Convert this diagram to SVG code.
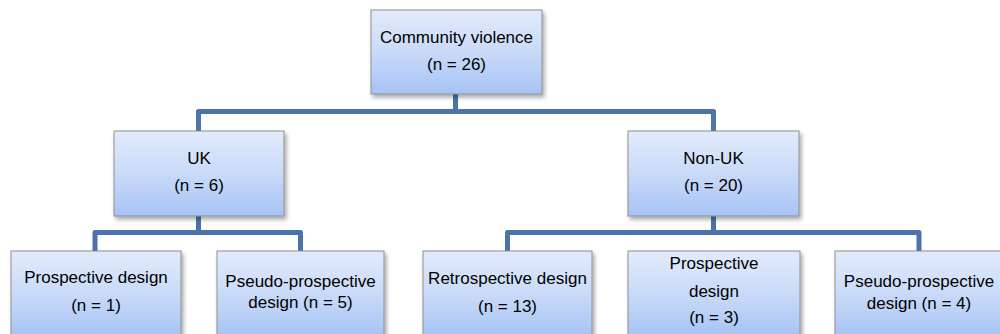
<svg xmlns="http://www.w3.org/2000/svg" width="1000" height="334" viewBox="0 0 1000 334">
  <defs>
    <linearGradient id="boxGrad" x1="0" y1="0" x2="0" y2="1">
      <stop offset="0" stop-color="#e2ebfb"/>
      <stop offset="0.5" stop-color="#c9daf8"/>
      <stop offset="1" stop-color="#a6c3f5"/>
    </linearGradient>
    <filter id="shadow" x="-10%" y="-10%" width="125%" height="130%">
      <feDropShadow dx="2" dy="3" stdDeviation="2" flood-color="#000" flood-opacity="0.35"/>
    </filter>
  </defs>
  <style>
    .box { fill: url(#boxGrad); stroke: #8f8f8f; stroke-width: 1; filter: url(#shadow); }
    .conn { fill: none; stroke: #4a74aa; stroke-width: 5; stroke-linejoin: round; stroke-linecap: butt; }
    text { font-family: "Liberation Sans", Arial, sans-serif; font-size: 17px; fill: #000; text-anchor: middle; }
  </style>
  <rect width="1000" height="334" fill="#ffffff"/>

  <g id="connectors">
    <path class="conn" d="M455.5 94 V111.5"/>
    <path class="conn" d="M198.5 131 V111.5 H713.5 V131"/>
    <path class="conn" d="M198.5 216 V232.5"/>
    <path class="conn" d="M95 251 V232.5 H300.5 V251"/>
    <path class="conn" d="M713.5 216 V232.5"/>
    <path class="conn" d="M507.5 251 V232.5 H919 V251"/>
  </g>

  <g id="node-community">
    <rect class="box" x="371" y="10" width="171" height="84"/>
    <text x="456.5" y="43">Community violence</text>
    <text x="456.5" y="70">(n = 26)</text>
  </g>

  <g id="node-uk">
    <rect class="box" x="114" y="131" width="170" height="85"/>
    <text x="199" y="164">UK</text>
    <text x="199" y="191">(n = 6)</text>
  </g>

  <g id="node-nonuk">
    <rect class="box" x="628" y="131" width="171" height="85"/>
    <text x="713.5" y="164">Non-UK</text>
    <text x="713.5" y="191">(n = 20)</text>
  </g>

  <g id="node-uk-prospective">
    <rect class="box" x="11" y="251" width="170" height="86"/>
    <text x="96" y="283">Prospective design</text>
    <text x="96" y="311">(n = 1)</text>
  </g>

  <g id="node-uk-pseudo">
    <rect class="box" x="217" y="251" width="167" height="86"/>
    <text x="300.5" y="287">Pseudo-prospective</text>
    <text x="300.5" y="308">design (n = 5)</text>
  </g>

  <g id="node-nonuk-retro">
    <rect class="box" x="423" y="251" width="169" height="86"/>
    <text x="507.5" y="284">Retrospective design</text>
    <text x="507.5" y="312">(n = 13)</text>
  </g>

  <g id="node-nonuk-prospective">
    <rect class="box" x="628" y="251" width="172" height="86"/>
    <text x="714" y="269">Prospective</text>
    <text x="714" y="297">design</text>
    <text x="714" y="323">(n = 3)</text>
  </g>

  <g id="node-nonuk-pseudo">
    <rect class="box" x="835" y="251" width="168" height="86"/>
    <text x="919" y="287">Pseudo-prospective</text>
    <text x="919" y="309">design (n = 4)</text>
  </g>
</svg>
